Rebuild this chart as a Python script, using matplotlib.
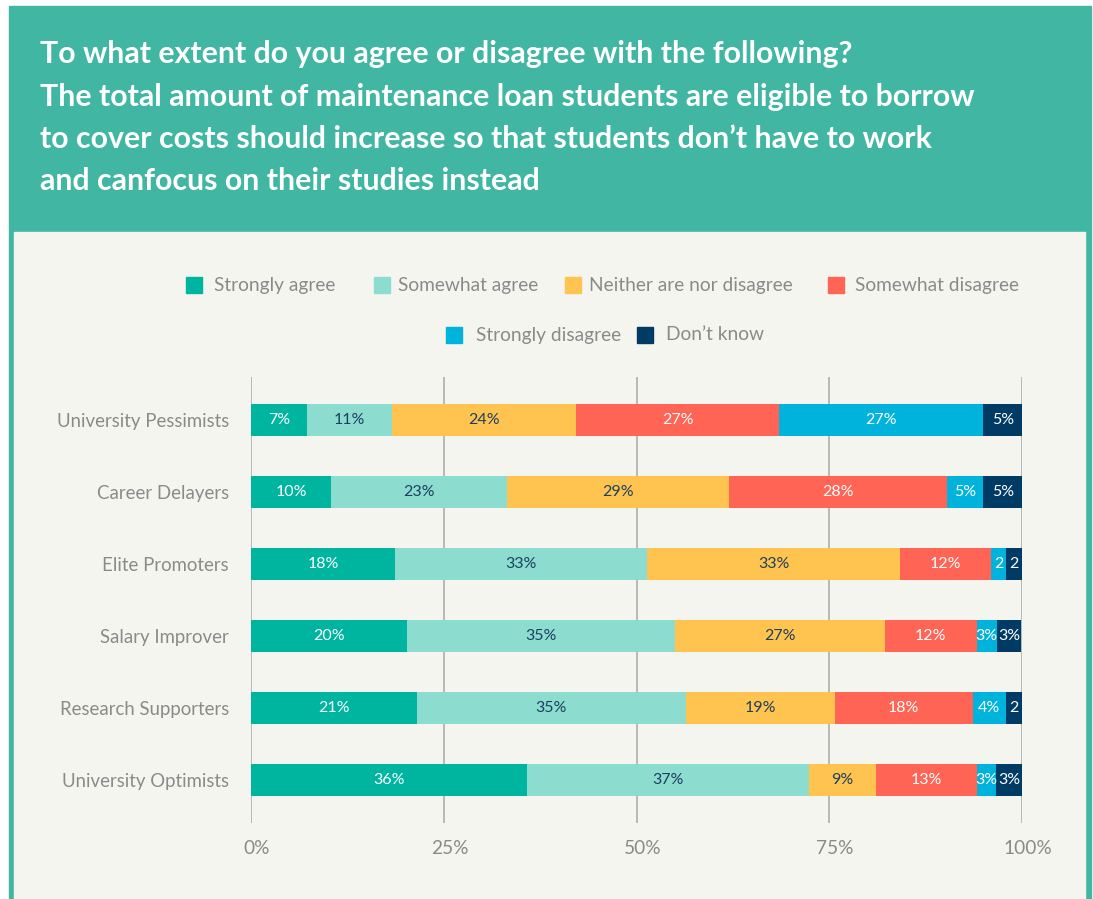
import matplotlib
matplotlib.use("Agg")
import matplotlib.pyplot as plt
from matplotlib.patches import Rectangle
from matplotlib.transforms import ScaledTranslation
import numpy as np

# ---------------- data ----------------
categories = ["University Pessimists", "Career Delayers", "Elite Promoters",
              "Salary Improver", "Research Supporters", "University Optimists"]
series_names = ["Strongly agree", "Somewhat agree", "Neither are nor disagree",
                "Somewhat disagree", "Strongly disagree", "Don\u2019t know"]

strongly_agree    = [7.3, 10.4, 18.7, 20.2, 21.5, 35.8]
somewhat_agree    = [11.0, 22.8, 32.7, 34.8, 34.9, 36.6]
neither           = [23.9, 28.8, 32.8, 27.2, 19.3, 8.7]
somewhat_disagree = [26.3, 28.3, 11.8, 11.9, 17.9, 13.0]
strongly_disagree = [26.5, 4.7, 1.9, 2.6, 4.3, 2.5]
dont_know         = [5.0, 5.1, 2.1, 3.2, 2.1, 3.5]

labels_strongly_agree    = ["7%", "10%", "18%", "20%", "21%", "36%"]
labels_somewhat_agree    = ["11%", "23%", "33%", "35%", "35%", "37%"]
labels_neither           = ["24%", "29%", "33%", "27%", "19%", "9%"]
labels_somewhat_disagree = ["27%", "28%", "12%", "12%", "18%", "13%"]
labels_strongly_disagree = ["27%", "5%", "2", "3%", "4%", "3%"]
labels_dont_know         = ["5%", "5%", "2", "3%", "2", "3%"]

xticks = [0, 25, 50, 75, 100]
xtick_labels = ["0%", "25%", "50%", "75%", "100%"]

title_lines = [
    "To what extent do you agree or disagree with the following?",
    "The total amount of maintenance loan students are eligible to borrow",
    "to cover costs should increase so that students don\u2019t have to work",
    "and canfocus on their studies instead",
]

# ---------------- style ----------------
colors = ["#00b5a0", "#8cdcd0", "#ffc44f", "#ff6455", "#00b3dc", "#003b66"]
text_colors = ["white", "#1d3f60", "#1d3f60", "white", "white", "white"]
header_color = "#41b6a2"
panel_color = "#f5f5f0"
grey_text = "#8a8a8a"
FONT = "Lato"

W, H = 1093, 899
fig = plt.figure(figsize=(W / 100, H / 100), dpi=100)
fig.patch.set_facecolor("white")

def fx(px):
    return px / W

def fy(py):
    return 1 - py / H

# header and panel frame
fig.patches.append(Rectangle((fx(9), fy(899)), fx(1091) - fx(9), fy(6) - fy(899),
                             transform=fig.transFigure, color=header_color, zorder=0))
fig.patches.append(Rectangle((fx(14), fy(899)), fx(1085) - fx(14), fy(232) - fy(899),
                             transform=fig.transFigure, color=panel_color, zorder=0.5))

# title
baselines = [63, 106, 148, 190]
for line, b in zip(title_lines, baselines):
    fig.text(fx(40), fy(b), line, color="white", fontsize=21.8, fontweight="bold",
             family=FONT, va="baseline", ha="left")

# legend (manual)
legend_items = [
    (0, 186, 214, 285), (1, 374, 398, 285), (2, 565, 589, 285), (3, 828, 855, 285),
    (4, 446, 476, 335), (5, 637, 666, 335),
]
sq = 16
for idx, sx, tx, cy in legend_items:
    fig.patches.append(Rectangle((fx(sx), fy(cy + sq / 2)), sq / W, sq / H,
                                 transform=fig.transFigure, color=colors[idx], zorder=2))
    fig.text(fx(tx), fy(cy), series_names[idx], color=grey_text, fontsize=13.8,
             family=FONT, va="center", ha="left")

# axes
ax = fig.add_axes([fx(251), fy(823), fx(1022) - fx(251), (823 - 377) / H])
ax.set_zorder(3)
ax.set_facecolor("none")
for s in ax.spines.values():
    s.set_visible(False)

y = np.arange(len(categories))
series = [strongly_agree, somewhat_agree, neither, somewhat_disagree,
          strongly_disagree, dont_know]
series_labels = [labels_strongly_agree, labels_somewhat_agree, labels_neither,
                 labels_somewhat_disagree, labels_strongly_disagree, labels_dont_know]

for xv in xticks:
    ax.axvline(xv, color="#b3b3b3", lw=1.3, zorder=1)

left = np.zeros(len(categories))
for vals, labs, col, tcol in zip(series, series_labels, colors, text_colors):
    vals = np.array(vals)
    ax.barh(y, vals, left=left, height=0.445, color=col, zorder=3, linewidth=0)
    for yi, (l, v, t) in enumerate(zip(left, vals, labs)):
        ax.text(l + v / 2, yi, t, ha="center", va="center", color=tcol,
                fontsize=11.5, family=FONT, zorder=4)
    left += vals

ax.set_xlim(0, 100)
ax.set_ylim(len(categories) - 1 + 0.597, -0.597)
ax.set_yticks(y)
ax.set_yticklabels(categories, family=FONT, fontsize=13.4, color=grey_text)
ax.set_xticks(xticks)
ax.set_xticklabels(xtick_labels, family=FONT, fontsize=13.8, color=grey_text)
ax.tick_params(axis="both", length=0)
ax.tick_params(axis="y", pad=16)
ax.tick_params(axis="x", pad=12)
off = ScaledTranslation(6 / 100, 0, fig.dpi_scale_trans)
for lab in ax.get_xticklabels():
    lab.set_transform(lab.get_transform() + off)

fig.savefig("out.png", dpi=100, facecolor=fig.get_facecolor())
